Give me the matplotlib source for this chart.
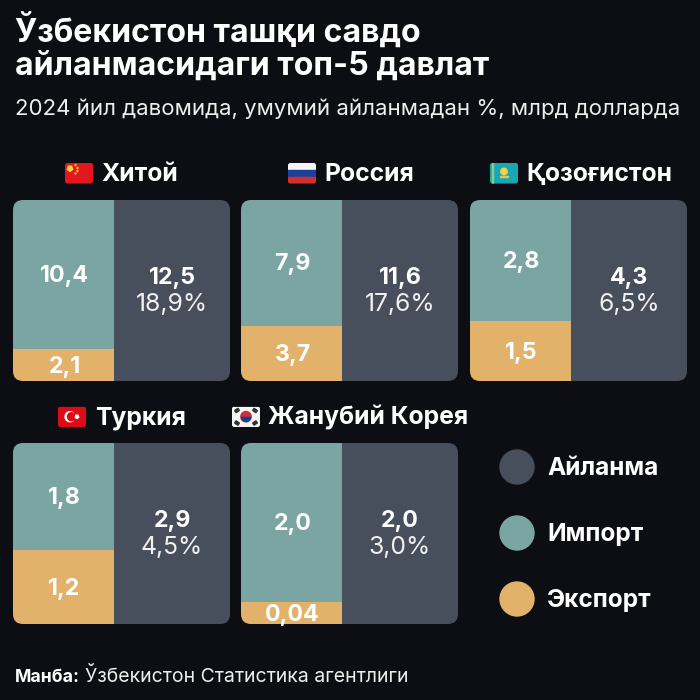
import matplotlib
matplotlib.use("Agg")
import matplotlib.pyplot as plt
from matplotlib.patches import Circle, FancyBboxPatch, Rectangle, RegularPolygon

countries = ["Хитой", "Россия", "Қозоғистон", "Туркия", "Жанубий Корея"]
export_labels = ["2,1", "3,7", "1,5", "1,2", "0,04"]
import_labels = ["10,4", "7,9", "2,8", "1,8", "2,0"]
total_labels = ["12,5", "11,6", "4,3", "2,9", "2,0"]
share_labels = ["18,9%", "17,6%", "6,5%", "4,5%", "3,0%"]
# share of the panel height held by export
export_share = [0.175, 0.304, 0.331, 0.409, 0.122]
legend_names = ["Айланма", "Импорт", "Экспорт"]

BG = "#0d0e13"
SLATE = "#474e5c"
TEAL = "#7aa5a3"
SAND = "#e2b26b"
WHITE = "#ffffff"

plt.rcParams["font.family"] = ["Inter", "DejaVu Sans"]

W = 700
fig = plt.figure(figsize=(7, 7), dpi=100, facecolor=BG)

# overlay in pixel coordinates, for text and flags
page = fig.add_axes([0, 0, 1, 1], zorder=3)
page.set_xlim(0, W)
page.set_ylim(W, 0)
page.axis("off")

page.text(15, 31, "Ўзбекистон ташқи савдо", color=WHITE, fontsize=23.1, fontweight="bold", va="center")
page.text(15, 66, "айланмасидаги топ-5 давлат", color=WHITE, fontsize=23.1, fontweight="bold", va="center")
page.text(15, 109, "2024 йил давомида, умумий айланмадан %, млрд долларда", color="#eeeeee", fontsize=16, va="center")


def draw_panel(i, left, top):
    ax = fig.add_axes([left / W, 1 - (top + 181) / W, 217 / W, 181 / W], zorder=2)
    ax.set_xlim(0, 217)
    ax.set_ylim(0, 1)
    ax.axis("off")
    split = 101
    share = export_share[i]
    bars = []
    bars += ax.bar(0, share, width=split, align="edge", color=SAND)
    bars += ax.bar(0, 1 - share, bottom=share, width=split, align="edge", color=TEAL)
    bars += ax.bar(split, 1, width=217 - split, align="edge", color=SLATE)

    # rounded panel corners
    clip = FancyBboxPatch((0, 0), 217, 1, boxstyle="round,pad=0,rounding_size=10", mutation_aspect=1 / 181,
                          facecolor="none", edgecolor="none", transform=ax.transData)
    ax.add_patch(clip)
    for bar in bars:
        bar.set_clip_path(clip)

    # -0.011 is about 2 px, Inter sits a bit high with va="center"
    ax.text(split / 2 + 1, share / 2 - 0.011, export_labels[i], color=WHITE, fontsize=16.7, fontweight="bold",
            ha="center", va="center")
    ax.text(split / 2 + 1, share + (1 - share) / 2 - 0.006, import_labels[i], color=WHITE, fontsize=16.7,
            fontweight="bold", ha="center", va="center")
    ax.text(split + 58, 0.57, total_labels[i], color=WHITE, fontsize=16.7, fontweight="bold",
            ha="center", va="center")
    ax.text(split + 58, 0.42, share_labels[i], color="#f0f0f0", fontsize=17.8, ha="center", va="center")


def draw_flag(i, x, y):
    box = FancyBboxPatch((x, y), 28, 20.5, boxstyle="round,pad=0,rounding_size=2.5",
                         facecolor="none", edgecolor="none")
    page.add_patch(box)
    if i == 0:
        parts = [Rectangle((x, y), 28, 20.5, color="#e3171f"),
                 RegularPolygon((x + 5, y + 5.5), 5, radius=2.8, color="#f8d53a")]
        for dx, dy in [(10.5, 2), (12.5, 5), (12.5, 8), (10.5, 10.5)]:
            parts.append(RegularPolygon((x + dx, y + dy), 5, radius=0.7, color="#f3a02e"))
    elif i == 1:
        parts = [Rectangle((x, y), 28, 7, color="#f4f4f4"),
                 Rectangle((x, y + 7), 28, 6.7, color="#1c3f9c"),
                 Rectangle((x, y + 13.7), 28, 6.8, color="#d22f2a")]
    elif i == 2:
        parts = [Rectangle((x, y), 28, 20.5, color="#1aa7b4"),
                 Rectangle((x + 1.5, y), 1.8, 20.5, color="#8fc98a"),
                 Circle((x + 14, y + 8.5), 3.2, color="#f2d24a"),
                 Rectangle((x + 10, y + 13), 8, 1.3, color="#d8c95a")]
    elif i == 3:
        parts = [Rectangle((x, y), 28, 20.5, color="#dd0a17"),
                 Circle((x + 12, y + 10.2), 5, color="#ffffff"),
                 Circle((x + 13.5, y + 10.2), 4, color="#dd0a17"),
                 RegularPolygon((x + 19, y + 10.2), 5, radius=1.8, color="#ffffff")]
    else:
        parts = [Rectangle((x, y), 28, 20.5, color="#f5f5f5"),
                 Circle((x + 14, y + 10.2), 5.2, color="#cd2e3a"),
                 Rectangle((x + 8.8, y + 10.7), 10.4, 5, color="#0047a0")]
        for dx, dy, angle in [(5, 4, -35), (23, 4, 35), (5, 16.5, 35), (23, 16.5, -35)]:
            parts.append(Rectangle((x + dx - 2, y + dy - 1.3), 4, 2.6, angle=angle, rotation_point="center",
                                   color="#333333"))
    for part in parts:
        page.add_patch(part)
        part.set_clip_path(box)
    if i == 4:
        parts[2].set_clip_path(Circle((x + 14, y + 10.2), 5.2, transform=page.transData))


panel_left = [13, 241, 470, 13, 241]
panel_top = [200, 200, 200, 443, 443]
flag_x = [65, 288, 490, 58, 232]
flag_y = [163, 163, 163, 406.5, 406.5]
name_x = [101, 324, 526, 95, 268]

for i in range(5):
    draw_panel(i, panel_left[i], panel_top[i])
    draw_flag(i, flag_x[i], flag_y[i])
    page.text(name_x[i], flag_y[i] + 11.5, countries[i], color=WHITE, fontsize=17.8, fontweight="bold", va="center")

legend_y = [467, 533, 599]
legend_colors = [SLATE, TEAL, SAND]
for name, y, color in zip(legend_names, legend_y, legend_colors):
    page.add_patch(Circle((517, y), 17, color=color))
    page.text(547, y + 1.5, name, color=WHITE, fontsize=17.6, fontweight="bold", va="center")

page.text(15, 677, "Манба:", color=WHITE, fontsize=12.7, fontweight="bold", va="center")
page.text(85, 677, "Ўзбекистон Статистика агентлиги", color="#eeeeee", fontsize=14, va="center")

fig.savefig("out.png", dpi=100, facecolor=BG)
